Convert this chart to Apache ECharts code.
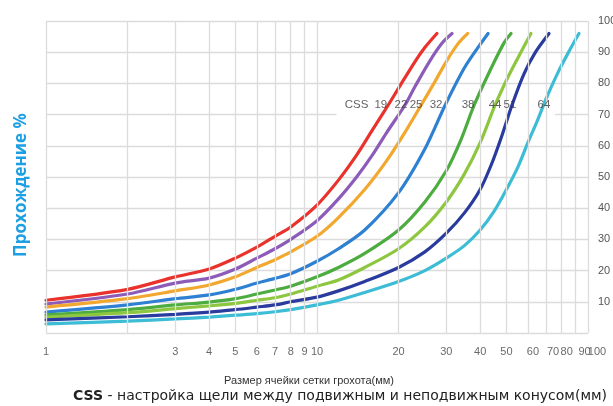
<!DOCTYPE html>
<html>
<head>
<meta charset="utf-8">
<script src="https://cdn.jsdelivr.net/npm/echarts@6/dist/echarts.min.js"></script>
<style>
  html, body { margin: 0; padding: 0; background: #fff; }
  #chart { width: 613px; height: 406px; }
</style>
</head>
<body>
<div id="chart"></div>
<script>
// Closed side setting (CSS) of each curve, mm
const cssSizes = ['19', '22', '25', '32', '38', '44', '51', '64'];

// Passing percentage vs. screen mesh size (mm) for each CSS
const pass19 = [[1,10.5],[2,14],[3,18],[4,20.5],[5,24],[6,27.5],[7,31],[8,34],[10,41],[12,49],[14,57],[16,65],[18.3,73],[20,78.5],[23,87],[25,91.5],[27.7,96]];
const pass22 = [[1,9.3],[2,12.5],[3,16],[4,17.6],[5,20.5],[6,24],[7,27],[8,30],[10,36],[12,43],[14,50],[16,57],[18,64],[21.1,73],[23,79],[26,87],[29,93],[31.5,96]];
const pass25 = [[1,8.3],[2,11],[3,13.5],[4,15.4],[5,18],[6,21],[7,23.5],[8,26],[10,31],[12,37],[15,46],[18,55],[21,64],[24.2,73],[27,80],[30,87],[33,92.5],[36,96]];
const pass32 = [[1,6.7],[2,9],[3,11],[4,12.2],[5,14],[6,16],[7,17.5],[8,19],[10,23],[12,27],[15,33],[20,45],[25,59],[29.7,73],[35,85],[40,92.5],[42.8,96]];
const pass38 = [[1,5.8],[2,7.5],[3,9],[4,9.9],[5,11],[6,12.5],[7,13.8],[8,15],[10,18],[12,21],[15,25.5],[20,33],[25,42],[30,52],[34,62],[38,73],[44,85],[49,93],[52,96]];
const pass44 = [[1,5.1],[2,6.5],[3,7.8],[4,8.7],[5,9.5],[6,10.5],[7,11.3],[8,12.5],[10,15],[12,17],[15,21],[20,27],[25,34],[30,42],[35,51],[40,61],[45.4,73],[50,81],[55,88],[61.6,96]];
const pass51 = [[1,4.2],[2,5.2],[3,6],[4,6.7],[5,7.5],[6,8.3],[7,9],[8,10],[10,11.5],[12,13.5],[15,16.5],[20,21],[25,26],[30,32],[35,38.5],[40,46],[44,54],[48,63],[52.4,73],[58,83],[64,90],[71.8,96]];
const pass64 = [[1,2.9],[2,3.8],[3,4.5],[4,5.1],[5,5.7],[6,6.2],[7,6.8],[8,7.5],[10,9],[12,10.5],[15,13],[20,16.5],[25,20],[30,24],[35,28],[40,33],[45,39],[50,46],[55,53],[60,61],[65,68],[70,75],[78,84],[86,91],[92.6,96]];
const passSeries = [pass19, pass22, pass25, pass32, pass38, pass44, pass51, pass64];

// Curve label row: text and the mesh size each one sits at, on the 73 % line
const curveLabelText = ['CSS', '19', '22', '25', '32', '38', '44', '51', '64'];
const curveLabelX = [14.0, 17.2, 20.4, 23.2, 27.5, 36.1, 45.4, 51.5, 68.8];
const curveLabelY = 73;

// Vertical grid lines and the mesh sizes printed under them
const gridX = [1, 2, 3, 4, 5, 6, 7, 8, 9, 10, 20, 30, 40, 50, 60, 70, 80, 90, 100];
const tickLabelsX = [1, 3, 4, 5, 6, 7, 8, 9, 10, 20, 30, 40, 50, 60, 70, 80, 90, 100];
const tickLabelsY = [10, 20, 30, 40, 50, 60, 70, 80, 90, 100];

const palette = ['#e8322b', '#8c5cb8', '#f2a72e', '#2e80d2', '#4dac3f', '#8dc63f', '#2a3b9e', '#3dbcd6'];
const labelFont = "'Liberation Sans', 'Open Sans', sans-serif";
// crowded labels at the right end are pushed a little to the right (px)
const tickNudge = { 60: 5, 70: 7, 80: 5, 90: 9, 100: 9 };

const chart = echarts.init(document.getElementById('chart'), null, { renderer: 'canvas' });

const curveSeries = passSeries.map((pts, i) => ({
  name: 'CSS ' + cssSizes[i],
  type: 'line',
  data: pts,
  smooth: 0.3,
  showSymbol: false,
  z: 3,
  lineStyle: { width: 3.2, color: palette[i], cap: 'round' },
  itemStyle: { color: palette[i] }
}));

// Vertical grid lines at log positions
const gridSeries = {
  type: 'line',
  data: [],
  z: 1,
  silent: true,
  markLine: {
    silent: true,
    symbol: ['none', 'none'],
    animation: false,
    lineStyle: { color: '#dcdcdc', width: 1.3, type: 'solid' },
    label: { show: false },
    data: gridX.map(v => ({ xAxis: v }))
  }
};

// Mesh-size labels under the plot
const tickSeries = {
  type: 'scatter',
  symbolSize: 0,
  silent: true,
  clip: false,
  z: 5,
  data: tickLabelsX.map(v => ({
    value: [v, 0],
    label: { offset: [tickNudge[v] || 0, 0] }
  })),
  label: {
    show: true,
    position: 'bottom',
    distance: 13,
    formatter: p => String(p.value[0]),
    color: '#444',
    fontSize: 11,
    fontFamily: labelFont
  }
};

// White strip carrying the CSS numbers across the curves
const labelSeries = {
  type: 'scatter',
  z: 10,
  symbolSize: 0,
  silent: true,
  data: curveLabelX.map((x, i) => ({ value: [x, curveLabelY], name: curveLabelText[i] })),
  label: {
    show: true,
    position: 'inside',
    formatter: p => p.name,
    color: '#3a3a3a',
    fontSize: 11.5,
    fontFamily: labelFont
  },
  markArea: {
    silent: true,
    itemStyle: { color: '#ffffff' },
    data: [[{ coord: [11.8, 69.3] }, { coord: [75.5, 76.3] }]]
  }
};

chart.setOption({
  animation: false,
  backgroundColor: '#ffffff',
  grid: { left: 46, right: 25, top: 21, bottom: 73, containLabel: false, outerBoundsMode: 'none' },
  xAxis: {
    type: 'log',
    logBase: 10,
    min: 1,
    max: 100,
    axisLine: { show: false },
    axisTick: { show: false },
    axisLabel: { show: false },
    splitLine: { show: false }
  },
  yAxis: {
    type: 'value',
    position: 'right',
    min: 0,
    max: 100,
    interval: 10,
    axisLine: { show: false },
    axisTick: { show: false },
    axisLabel: {
      margin: 10,
      color: '#555',
      fontSize: 11,
      fontFamily: labelFont,
      formatter: v => (tickLabelsY.indexOf(v) !== -1 ? String(v) : '')
    },
    splitLine: { lineStyle: { color: '#dcdcdc', width: 1.3 } }
  },
  graphic: [
    {
      type: 'text',
      x: 21,
      y: 185,
      rotation: Math.PI / 2,
      style: {
        text: 'Прохождение %',
        fill: '#1d9fe3',
        font: "bold 17px 'Open Sans', sans-serif",
        textAlign: 'center',
        textVerticalAlign: 'middle'
      }
    },
    {
      type: 'text',
      x: 309,
      y: 381,
      style: {
        text: 'Размер ячейки сетки грохота(мм)',
        fill: '#333',
        font: "11px 'Liberation Sans', sans-serif",
        textAlign: 'center',
        textVerticalAlign: 'middle'
      }
    },
    {
      type: 'text',
      x: 340,
      y: 396,
      style: {
        text: '{b|CSS} - настройка щели между подвижным и неподвижным конусом(мм)',
        fill: '#222',
        font: "14px 'DejaVu Sans', sans-serif",
        textAlign: 'center',
        textVerticalAlign: 'middle',
        rich: {
          b: { fontWeight: 'bold', fontSize: 14, fontFamily: "'DejaVu Sans', sans-serif", fill: '#222' }
        }
      }
    }
  ],
  series: [gridSeries].concat(curveSeries, [labelSeries, tickSeries])
});
</script>
</body>
</html>
